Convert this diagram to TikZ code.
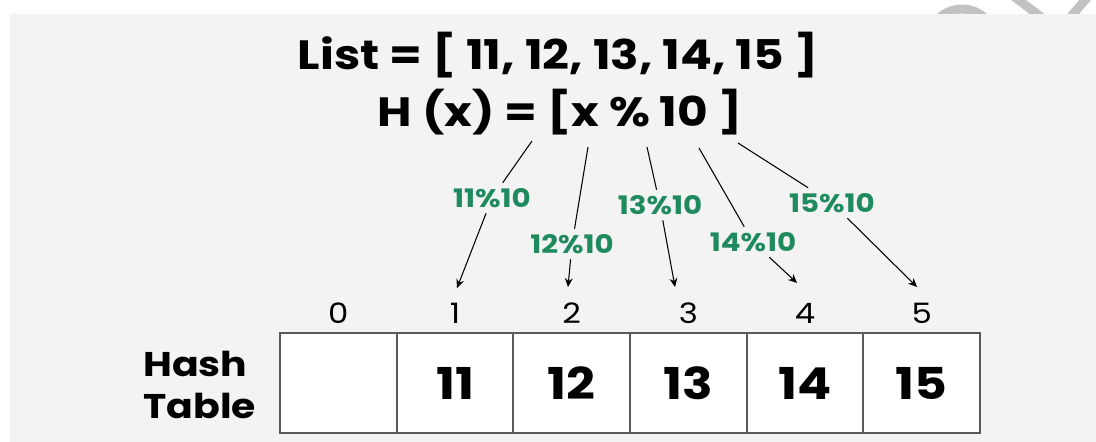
\documentclass[tikz,border=0pt]{standalone}
\usepackage{fontspec}
\setmainfont{Poppins}[FakeStretch=1.15]
\usetikzlibrary{arrows.meta}
\definecolor{panel}{HTML}{F3F3F3}
\definecolor{modgreen}{HTML}{1F8A5E}
\definecolor{wmark}{HTML}{C2C2C2}
\definecolor{cellline}{HTML}{5A5A5A}
\begin{document}
\begin{tikzpicture}[x=0.02cm,y=-0.02cm,
  title/.style={font=\bfseries\fontsize{23.3}{27}\selectfont,inner sep=0pt},
  cell/.style={draw=cellline,line width=1.1pt,fill=white,minimum width=2.334cm,
    minimum height=2cm,inner sep=0pt,font=\bfseries\fontsize{25}{29}\selectfont},
  idx/.style={font=\fontsize{16}{19}\selectfont,inner sep=0pt},
  modlbl/.style={text=modgreen,font=\bfseries\fontsize{14.5}{17}\selectfont,inner sep=3pt},
  arr/.style={-{Stealth[length=5pt,width=4.5pt]},line width=0.6pt}]
\useasboundingbox (0,0) rectangle (1096,442);
% watermark bits peeking out above the panel
\draw[wmark,line width=0.18cm] (962,42) circle (0.66cm);
\draw[wmark,line width=0.18cm] (1008,-8) -- (1045,20);
\draw[wmark,line width=0.18cm] (1092,-8) -- (1068,20);
\fill[panel] (10,14) rectangle (1096,442);
% heading
\node[title,anchor=base] (list) at (558,70) {List = [ 11, 12, 13, 14, 15 ]};
\node[title,anchor=base] (hfun) at (560,127) {H (x) = [x \% 10 ]};
% table
\foreach \i/\v in {0/,1/11,2/12,3/13,4/14,5/15} {
  \node[cell] (c\i) at ({338.3+116.7*\i},383) {\v};
  \node[idx] (i\i) at ({338.3+116.7*\i},313) {\i};
}
\node[anchor=west,align=left,inner sep=0pt,font=\bfseries\fontsize{19.5}{23.5}\selectfont] (hash) at (143,385) {Hash\\Table};
% arrows
\coordinate (s1) at (532,141); \coordinate (t1) at (457,288);
\coordinate (s2) at (588,147); \coordinate (t2) at (568,287);
\coordinate (s3) at (647,147); \coordinate (t3) at (675,287);
\coordinate (s4) at (699,148); \coordinate (t4) at (797,283);
\coordinate (s5) at (738,143); \coordinate (t5) at (917,287);
\node[modlbl] (m1) at (492,198) {11\%10};
\node[modlbl] (m2) at (572,244) {12\%10};
\node[modlbl] (m3) at (660,205) {13\%10};
\node[modlbl] (m4) at (753,242) {14\%10};
\node[modlbl] (m5) at (832,203) {15\%10};
\foreach \i in {1,...,5}
  \draw[arr] (s\i) -- (m\i) -- (t\i);
\end{tikzpicture}
\end{document}
